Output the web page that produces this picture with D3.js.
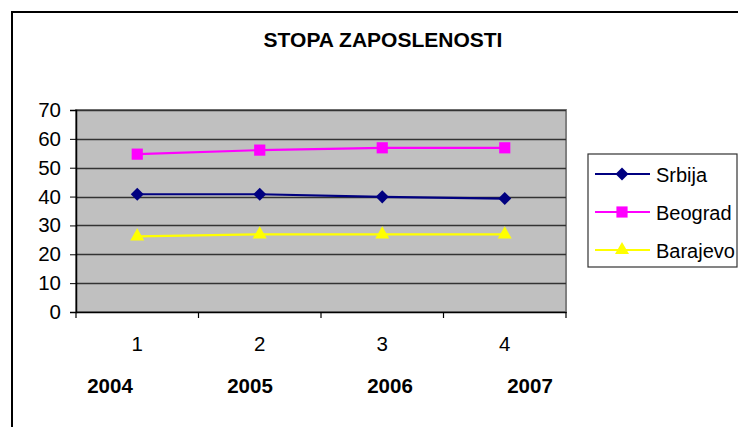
<!DOCTYPE html>
<html><head><meta charset="utf-8">
<script src="https://cdn.jsdelivr.net/npm/d3@7"></script>
<style>body{margin:0;background:#fff}svg{display:block;font-family:Arial,"Liberation Sans",sans-serif}</style>
</head><body><svg id="c" width="738" height="427"></svg>
<script>
const title = "STOPA ZAPOSLENOSTI";
const categories = ["1", "2", "3", "4"];
const years = ["2004", "2005", "2006", "2007"];
const yTicks = [0, 10, 20, 30, 40, 50, 60, 70];
const seriesNames = ["Srbija", "Beograd", "Barajevo"];
const srbija = [40.8, 40.8, 39.9, 39.3];
const beograd = [54.7, 56.1, 56.9, 56.9];
const barajevo = [26.2, 26.9, 26.9, 26.9];
const colors = ["#000080", "#ff00ff", "#ffff00"];

const symbols = [d3.symbolSquare, d3.symbolSquare, d3.symbolTriangle];
const symSizes = [85, 125, 85];
const symRot = [45, 0, 0];

const series = [srbija, beograd, barajevo].map((v, i) => ({name: seriesNames[i], values: v, color: colors[i], symbol: symbols[i], size: symSizes[i], rot: symRot[i]}));

const svg = d3.select("#c");
const L = 76, R = 566, T = 110, B = 312;

// outer frame
svg.append("rect").attr("x", 12).attr("y", 12).attr("width", 800).attr("height", 500)
  .attr("fill", "none").attr("stroke", "#000").attr("stroke-width", 2);

svg.append("text").attr("x", 383).attr("y", 47).attr("text-anchor", "middle")
  .attr("font-size", 21).attr("font-weight", "bold").text(title);

const x = d3.scaleBand().domain(categories).range([L, R]);
const y = d3.scaleLinear().domain([0, 70]).range([B, T]);

// plot area
svg.append("rect").attr("x", L).attr("y", T).attr("width", R - L).attr("height", B - T)
  .attr("fill", "#c0c0c0").attr("stroke", "#808080").attr("stroke-width", 2);

// gridlines
svg.append("g").selectAll("line").data(yTicks.filter(d => d > 0)).join("line")
  .attr("x1", L).attr("x2", R).attr("y1", d => Math.round(y(d)) + 0.5).attr("y2", d => Math.round(y(d)) + 0.5)
  .attr("stroke", "#333").attr("stroke-width", 1.5);

// y axis
const yAxis = svg.append("g").attr("transform", `translate(${L},0)`)
  .call(d3.axisLeft(y).tickValues(yTicks).tickSize(6).tickPadding(9));
yAxis.select(".domain").attr("stroke", "#000").attr("stroke-width", 1.5);
yAxis.selectAll(".tick line").attr("stroke", "#000");
yAxis.selectAll("text").attr("font-size", 20.5).attr("fill", "#000").attr("font-family", "Arial, 'Liberation Sans', sans-serif");

// x axis
const xAxis = svg.append("g").attr("transform", `translate(0,${B})`)
  .call(d3.axisBottom(x).tickSize(0).tickPadding(24));
xAxis.select(".domain").attr("stroke", "#000").attr("stroke-width", 1.5);
xAxis.selectAll("text").attr("font-size", 20.5).attr("fill", "#000").attr("font-family", "Arial, 'Liberation Sans', sans-serif");
// category boundary ticks
const bounds = categories.map(c => x(c)).concat([x(categories[categories.length - 1]) + x.bandwidth()]);
svg.append("g").selectAll("line").data(bounds).join("line")
  .attr("x1", d => d).attr("x2", d => d).attr("y1", B).attr("y2", B + 6)
  .attr("stroke", "#000").attr("stroke-width", 1.2);

// year labels
const xYear = d3.scalePoint().domain(years).range([110, 530]);
svg.append("g").selectAll("text").data(years).join("text")
  .attr("x", d => xYear(d)).attr("y", 393).attr("text-anchor", "middle")
  .attr("font-size", 20.5).attr("font-weight", "bold").text(d => d);

// lines + markers
const cx = (i) => x(categories[i]) + x.bandwidth() / 2;
const line = d3.line().x((d, i) => cx(i)).y(d => y(d));
series.forEach(s => {
  svg.append("path").datum(s.values).attr("d", line).attr("fill", "none")
    .attr("stroke", s.color).attr("stroke-width", 2.2);
  svg.append("g").selectAll("path").data(s.values).join("path")
    .attr("transform", (d, i) => `translate(${cx(i)},${y(d)}) rotate(${s.rot})`)
    .attr("d", d3.symbol().type(s.symbol).size(s.size)).attr("fill", s.color);
});

// legend
const lg = svg.append("g");
lg.append("rect").attr("x", 588).attr("y", 154).attr("width", 149).attr("height", 113)
  .attr("fill", "#fff").attr("stroke", "#333").attr("stroke-width", 1.2);
const ly = d3.scalePoint().domain(seriesNames).range([174, 250]);
series.forEach(s => {
  const yy = ly(s.name);
  lg.append("line").attr("x1", 595).attr("x2", 650).attr("y1", yy).attr("y2", yy)
    .attr("stroke", s.color).attr("stroke-width", 2);
  lg.append("path").attr("transform", `translate(622,${yy}) rotate(${s.rot})`)
    .attr("d", d3.symbol().type(s.symbol).size(s.size)).attr("fill", s.color);
  lg.append("text").attr("x", 656).attr("y", yy + 7.5).attr("font-size", 20).text(s.name);
});
</script></body></html>
